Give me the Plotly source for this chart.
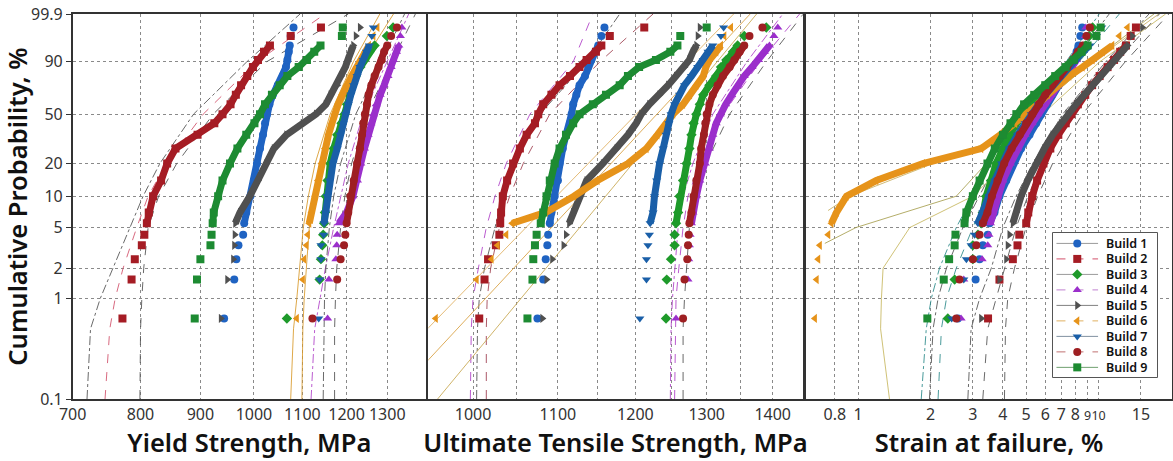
import math
import plotly.graph_objects as go

# ---------------- data ----------------
BUILDS = ["Build 1", "Build 2", "Build 3", "Build 4", "Build 5",
          "Build 6", "Build 7", "Build 8", "Build 9"]
COLORS = ["#1F63C2", "#A51C24", "#1E9A2A", "#9B2FCB", "#505050",
          "#E6931A", "#1A5FA8", "#9E1F22", "#1D8B32"]
SYMBOLS = ["circle", "square", "diamond", "triangle-up", "triangle-right",
           "triangle-left", "triangle-down", "circle", "square"]
LEGEND_LINE = ["#9a9a9a", "#D2506A", "#9a9a9a", "#C080D0", "#808080",
               "#E0B060", "#8090A0", "#C07070", "#70A070"]

# plotting positions (cumulative probability, %) shared by all builds
PROB = [0.634, 1.54, 2.45, 3.35, 4.26, 5.5, 7, 10, 14, 20, 27, 35, 43, 50,
        58, 66, 74, 81, 87, 91, 94.5, 96.5, 98.46, 99.37]

# Yield strength, MPa
YS_B1 = [943, 962, 966, 970, 979, 981, 985, 993, 1000, 1006, 1012, 1018, 1022, 1026, 1031, 1038, 1048, 1059, 1065, 1068, 1071, 1073, 1075, 1081]
YS_B2 = [772, 786, 791, 802, 806, 810, 813, 820, 833, 843, 857, 895, 925, 940, 955, 965, 975, 987, 998, 1008, 1020, 1032, 1075, 1141]
YS_B3 = [1067, 1138, 1141, 1144, 1146, 1148, 1150, 1152, 1156, 1162, 1170, 1178, 1188, 1195, 1201, 1206, 1212, 1222, 1233, 1243, 1255, 1268, 1299, 1315]
YS_B4 = [1156, 1159, 1175, 1177, 1178, 1182, 1200, 1215, 1226, 1234, 1243, 1252, 1259, 1265, 1272, 1282, 1292, 1302, 1310, 1316, 1324, 1330, 1334, 1338]
YS_B5 = [937, 949, 960, 962, 963, 964, 973, 992, 1008, 1025, 1040, 1066, 1101, 1130, 1152, 1163, 1178, 1187, 1197, 1203, 1209, 1216, 1222, 1232]
YS_B6 = [1088, 1101, 1104, 1109, 1112, 1115, 1120, 1128, 1134, 1142, 1150, 1158, 1166, 1172, 1180, 1190, 1200, 1212, 1224, 1234, 1245, 1254, 1265, 1275]
YS_B7 = [1136, 1138, 1141, 1141, 1147, 1148, 1152, 1155, 1160, 1168, 1178, 1185, 1192, 1198, 1204, 1210, 1217, 1225, 1232, 1240, 1248, 1255, 1261, 1265]
YS_B8 = [1122, 1178, 1186, 1194, 1197, 1200, 1204, 1209, 1217, 1225, 1232, 1237, 1240, 1244, 1249, 1253, 1260, 1268, 1278, 1286, 1292, 1300, 1310, 1325]
YS_B9 = [890, 894, 900, 918, 920, 922, 924, 932, 940, 954, 968, 985, 1001, 1012, 1022, 1036, 1052, 1068, 1092, 1110, 1126, 1140, 1189, 1191]

# Ultimate tensile strength, MPa
UTS_B1 = [1075, 1082, 1085, 1087, 1088, 1090, 1092, 1096, 1100, 1102, 1106, 1110, 1115, 1117, 1119, 1123, 1127, 1134, 1138, 1142, 1147, 1151, 1155, 1159]
UTS_B2 = [1007, 1013, 1017, 1026, 1030, 1031, 1032, 1034, 1039, 1046, 1054, 1062, 1072, 1076, 1082, 1092, 1102, 1115, 1127, 1136, 1148, 1155, 1166, 1212]
UTS_B3 = [1242, 1243, 1249, 1254, 1254, 1256, 1259, 1261, 1266, 1271, 1275, 1278, 1281, 1285, 1290, 1295, 1304, 1314, 1321, 1329, 1339, 1346, 1356, 1390]
UTS_B4 = [1256, 1273, 1274, 1275, 1276, 1278, 1280, 1285, 1290, 1298, 1304, 1309, 1314, 1320, 1328, 1337, 1346, 1356, 1368, 1378, 1387, 1395, 1402, 1408]
UTS_B5 = [1081, 1086, 1093, 1107, 1110, 1114, 1119, 1127, 1136, 1157, 1175, 1190, 1201, 1208, 1219, 1233, 1245, 1256, 1268, 1275, 1280, 1285, 1287, 1290]
UTS_B6 = [959, 1004, 1021, 1028, 1038, 1045, 1085, 1120, 1150, 1190, 1215, 1230, 1242, 1252, 1266, 1276, 1285, 1295, 1299, 1304, 1314, 1321, 1326, 1336]
UTS_B7 = [1206, 1215, 1215, 1217, 1219, 1220, 1224, 1226, 1229, 1233, 1238, 1242, 1246, 1249, 1254, 1261, 1268, 1278, 1287, 1295, 1302, 1309, 1321, 1325]
UTS_B8 = [1266, 1268, 1272, 1273, 1274, 1275, 1278, 1281, 1285, 1290, 1292, 1296, 1298, 1300, 1304, 1309, 1316, 1324, 1334, 1341, 1349, 1356, 1364, 1384]
UTS_B9 = [1063, 1069, 1070, 1072, 1074, 1079, 1082, 1086, 1090, 1096, 1102, 1110, 1119, 1127, 1144, 1161, 1179, 1190, 1205, 1228, 1248, 1258, 1262, 1300]

# Strain at failure, %
EL_B1 = [2.6, 3.08, 3.2, 3.3, 3.46, 3.52, 3.69, 3.87, 4.13, 4.4, 4.76, 5.16, 5.5, 5.77, 6.1, 6.4, 6.8, 7.2, 7.6, 7.9, 8.1, 8.25, 8.4, 8.55]
EL_B2 = [3.47, 3.87, 4.4, 4.6, 4.68, 5.0, 5.1, 5.3, 5.55, 5.9, 6.3, 6.8, 7.3, 7.7, 8.2, 8.8, 9.4, 10.1, 10.9, 11.6, 12.3, 13.0, 13.6, 14.3]
EL_B3 = [2.36, 2.52, 3.0, 3.0, 3.15, 3.25, 3.3, 3.41, 3.57, 3.75, 4.0, 4.26, 4.54, 4.76, 5.16, 5.67, 6.23, 6.87, 7.55, 8.05, 8.58, 8.86, 9.14, 9.44]
EL_B4 = [2.68, 2.75, 3.28, 3.46, 3.5, 3.55, 3.65, 3.8, 4.0, 4.3, 4.6, 4.95, 5.3, 5.6, 5.95, 6.35, 6.8, 7.3, 7.8, 8.1, 8.4, 8.6, 8.8, 8.85]
EL_B5 = [3.25, 3.87, 4.13, 4.19, 4.26, 4.4, 4.54, 4.76, 5.07, 5.5, 5.95, 6.44, 6.97, 7.42, 8.05, 8.72, 9.44, 10.2, 11.1, 11.8, 12.6, 13.2, 13.8, 15.2]
EL_B6 = [0.661, 0.672, 0.682, 0.693, 0.751, 0.775, 0.813, 0.895, 1.19, 1.86, 3.25, 3.9, 4.5, 5.0, 5.58, 6.14, 6.76, 7.55, 8.58, 9.44, 10.4, 11.4, 12.2, 13.2]
EL_B7 = [2.45, 2.75, 2.82, 2.95, 3.05, 3.15, 3.3, 3.5, 3.7, 3.95, 4.25, 4.6, 4.95, 5.25, 5.6, 6.0, 6.5, 7.0, 7.6, 8.1, 8.6, 9.2, 9.8, 10.3]
EL_B8 = [2.56, 2.64, 3.0, 3.1, 3.2, 3.3, 3.45, 3.6, 3.8, 4.05, 4.35, 4.7, 5.0, 5.3, 5.65, 6.0, 6.4, 6.9, 7.4, 7.8, 8.2, 8.6, 8.9, 9.2]
EL_B9 = [1.94, 2.27, 2.39, 2.52, 2.54, 2.77, 2.82, 3.0, 3.2, 3.45, 3.7, 4.0, 4.3, 4.55, 4.9, 5.4, 6.0, 6.6, 7.3, 7.9, 8.5, 9.0, 9.8, 10.2]

# fitted distribution curves / confidence bounds
FIT_P = [0.1, 0.5, 1, 2, 5, 10, 20, 50, 90, 99.9]
LINE_P = [0.1, 99.9]
YS_FIT_B2_LO = [720, 725, 739, 758, 784, 804, 831, 888, 986, 1095]
YS_FIT_B2_MID = [746, 753, 761, 773, 794, 812, 842, 905, 1005, 1150]
YS_FIT_B2_HI = [799, 800, 802, 805, 812, 829, 859, 923, 1025, 1204]
YS_FIT_B6_LO = [1075, 1081, 1088, 1094, 1102, 1113, 1128, 1162, 1216, 1281]
YS_FIT_B6_HI = [1099, 1101, 1104, 1108, 1115, 1124, 1139, 1177, 1240, 1316]
YS_FIT_B4_LO = [1119, 1127, 1139, 1151, 1170, 1186, 1204, 1240, 1299, 1356]
YS_FIT_B7_HI = [1146, 1147, 1149, 1152, 1160, 1170, 1186, 1222, 1285, 1345]
YS_FIT_B4_HI = [1172, 1172, 1174, 1177, 1186, 1196, 1212, 1248, 1312, 1374]

UTS_FIT_B2_LO = [997, 998, 1000, 1006, 1015, 1025, 1038, 1066, 1119, 1144]
UTS_FIT_B2_MID = [1004, 1005, 1007, 1013, 1025, 1034, 1048, 1078, 1136, 1179]
UTS_FIT_B2_HI = [1015, 1015, 1016, 1020, 1030, 1042, 1058, 1090, 1153, 1224]
UTS_LINE_B6_A = [913, 1365]
UTS_LINE_B6_B = [961, 1375]
UTS_LINE_B6_C = [880, 1340]
UTS_FIT_B4_LO = [1248, 1249, 1251, 1254, 1259, 1266, 1280, 1309, 1360, 1416]
UTS_FIT_B4_MID = [1254, 1255, 1256, 1260, 1266, 1273, 1290, 1324, 1380, 1443]
UTS_FIT_B4_HI = [1266, 1266, 1268, 1271, 1275, 1283, 1299, 1334, 1390, 1449]

EL_FIT_B6_A = [1.35, 1.24, 1.25, 1.27, 1.64, 3.0, 4.13, 5.85, 10.1, 19.0]
EL_FIT_B6_B_P = [3.5, 5, 10, 20, 50, 90, 99.9]
EL_FIT_B6_B = [0.727, 0.98, 2.56, 3.41, 5.2, 9.3, 17.0]
EL_FIT_B6_C_P = [7.3, 10, 20, 30, 50, 90, 99.9]
EL_FIT_B6_C = [0.75, 0.924, 2.05, 3.41, 5.15, 9.4, 17.8]
EL_FIT_B9_LO = [1.83, 1.92, 2.015, 2.18, 2.56, 3.0, 3.52, 4.69, 7.32, 10.06]
EL_FIT_B9_MID = [1.98, 2.05, 2.15, 2.33, 2.73, 3.2, 3.75, 4.99, 7.8, 11.07]
EL_FIT_B9_HI = [2.15, 2.22, 2.33, 2.56, 3.0, 3.41, 4.0, 5.32, 8.3, 12.2]
EL_FIT_B5_LO = [2.86, 2.95, 3.2, 3.58, 4.0, 4.54, 5.32, 7.09, 10.7, 16.2]
EL_FIT_B5_MID = [3.3, 3.46, 3.75, 4.06, 4.54, 5.08, 5.86, 7.8, 11.8, 17.9]
EL_FIT_B5_HI = [4.06, 4.1, 4.19, 4.47, 4.99, 5.58, 6.44, 8.57, 12.9, 19.6]

Y_TICKS = [0.1, 1, 2, 5, 10, 20, 50, 90, 99.9]
Y_TICKTEXT = ["0.1", "1", "2", "5", "10", "20", "50", "90", "99.9"]
X1_TICKS = [700, 800, 900, 1000, 1100, 1200, 1300]
X2_TICKS = [1000, 1100, 1200, 1300, 1400]
X2_MINOR = [1050, 1150, 1250, 1350]
X3_TICKS = [0.8, 1, 2, 3, 4, 5, 6, 7, 8, 9, 10, 15]
X3_TICKTEXT = ["0.8", "1", "2", "3", "4", "5", "6", "7", "8", "9", "10", "15"]

YS = [YS_B1, YS_B2, YS_B3, YS_B4, YS_B5, YS_B6, YS_B7, YS_B8, YS_B9]
UTS = [UTS_B1, UTS_B2, UTS_B3, UTS_B4, UTS_B5, UTS_B6, UTS_B7, UTS_B8, UTS_B9]
EL = [EL_B1, EL_B2, EL_B3, EL_B4, EL_B5, EL_B6, EL_B7, EL_B8, EL_B9]


def wb(ps):
    """Weibull probability scale: ln(-ln(1-p))."""
    return [math.log(-math.log(1 - p / 100.0)) for p in ps]


fig = go.Figure()
FONT = "Noto Sans"
BAND_LO, BAND_HI = 5, 22   # indices of the dense run of points

# ---------- fitted curves (drawn first, underneath) ----------
curves = [
    ("x", FIT_P, YS_FIT_B2_LO, "#505050", "dashdot"),
    ("x", FIT_P, YS_FIT_B2_MID, "#D2506A", "dash"),
    ("x", FIT_P, YS_FIT_B2_HI, "#505050", "dash"),
    ("x", FIT_P, YS_FIT_B6_LO, "#D99A2B", "solid"),
    ("x", FIT_P, YS_FIT_B6_HI, "#D99A2B", "solid"),
    ("x", FIT_P, YS_FIT_B4_LO, "#B040C8", "dashdot"),
    ("x", FIT_P, YS_FIT_B7_HI, "#505050", "dashdot"),
    ("x", FIT_P, YS_FIT_B4_HI, "#505050", "dash"),
    ("x2", FIT_P, UTS_FIT_B2_LO, "#B040C8", "dash"),
    ("x2", FIT_P, UTS_FIT_B2_MID, "#505050", "dashdot"),
    ("x2", FIT_P, UTS_FIT_B2_HI, "#A04050", "dash"),
    ("x2", LINE_P, UTS_LINE_B6_A, "#D9A040", "solid"),
    ("x2", LINE_P, UTS_LINE_B6_B, "#C8A850", "solid"),
    ("x2", LINE_P, UTS_LINE_B6_C, "#E0B060", "solid"),
    ("x2", FIT_P, UTS_FIT_B4_LO, "#B040C8", "dashdot"),
    ("x2", FIT_P, UTS_FIT_B4_MID, "#B040C8", "dash"),
    ("x2", FIT_P, UTS_FIT_B4_HI, "#505050", "dash"),
    ("x3", FIT_P, EL_FIT_B6_A, "#C8B860", "solid"),
    ("x3", EL_FIT_B6_B_P, EL_FIT_B6_B, "#A8A050", "solid"),
    ("x3", EL_FIT_B6_C_P, EL_FIT_B6_C, "#C8B060", "solid"),
    ("x3", FIT_P, EL_FIT_B9_LO, "#2A8A8A", "dashdot"),
    ("x3", FIT_P, EL_FIT_B9_MID, "#505050", "dashdot"),
    ("x3", FIT_P, EL_FIT_B9_HI, "#2A8A8A", "dash"),
    ("x3", FIT_P, EL_FIT_B5_LO, "#505050", "dashdot"),
    ("x3", FIT_P, EL_FIT_B5_MID, "#505050", "dash"),
    ("x3", FIT_P, EL_FIT_B5_HI, "#505050", "dash"),
]
for xa, pp, vals, col, dash in curves:
    ya = "y" + xa[1:]
    fig.add_trace(go.Scatter(x=vals, y=wb(pp), xaxis=xa, yaxis=ya, mode="lines",
                             line=dict(color=col, width=1, dash=dash),
                             opacity=0.85, showlegend=False, hoverinfo="skip"))

# ---------- data points ----------
for xa, ya, data in [("x", "y", YS), ("x2", "y2", UTS), ("x3", "y3", EL)]:
    ys = wb(PROB)
    for i in range(9):
        vals = data[i]
        fig.add_trace(go.Scatter(
            x=vals[BAND_LO:BAND_HI], y=ys[BAND_LO:BAND_HI], xaxis=xa, yaxis=ya,
            mode="lines", line=dict(color=COLORS[i], width=7),
            showlegend=False, hoverinfo="skip"))
        fig.add_trace(go.Scatter(
            x=vals, y=ys, xaxis=xa, yaxis=ya, mode="markers",
            marker=dict(symbol=SYMBOLS[i], color=COLORS[i], size=8, line=dict(width=0)),
            showlegend=False, name=BUILDS[i], hoverinfo="skip"))

# ---------- legend box (own small axes, units = pixels inside the box) ----------
W, H = 1173, 461
LEG_X0, LEG_X1, LEG_Y0, LEG_Y1 = 1052, 1158, 232, 378
LEG_ROW = 15.6
rows = [11 + LEG_ROW * k for k in range(9)]
fig.add_trace(go.Scatter(
    x=[0, LEG_X1 - LEG_X0, LEG_X1 - LEG_X0, 0, 0],
    y=[0, 0, LEG_Y1 - LEG_Y0, LEG_Y1 - LEG_Y0, 0],
    xaxis="x4", yaxis="y4", mode="lines", fill="toself", fillcolor="white",
    line=dict(color="#555555", width=1), showlegend=False, hoverinfo="skip"))
for i in range(9):
    fig.add_trace(go.Scatter(
        x=[4, 46], y=[rows[i], rows[i]], xaxis="x4", yaxis="y4", mode="lines",
        line=dict(color=LEGEND_LINE[i], width=1, dash="solid" if i % 2 == 0 else "dash"),
        showlegend=False, hoverinfo="skip"))
    fig.add_trace(go.Scatter(
        x=[25], y=[rows[i]], xaxis="x4", yaxis="y4", mode="markers",
        marker=dict(symbol=SYMBOLS[i], color=COLORS[i], size=8),
        showlegend=False, hoverinfo="skip"))
    fig.add_annotation(x=52, y=rows[i], xref="x4", yref="y4", text=BUILDS[i],
                       showarrow=False, xanchor="left", yanchor="middle",
                       font=dict(family=FONT, size=12.5, color="#111111", weight=600))

Y_DOM = [1 - 399 / H, 1 - 14 / H]
GRID = dict(showgrid=True, gridcolor="#8a8a8a", griddash="dot", gridwidth=1,
            showline=True, mirror=True, linecolor="#333333", linewidth=1.5,
            zeroline=False, automargin=False)
TICKF = dict(family=FONT, size=16, color="#333333")
TITLEF = dict(family=FONT, size=25.5, color="#111111", weight=600)

# the two tightly spaced labels "9" and "10" are set a little smaller so they do not collide
x3_text = [('<span style="font-size:12.5px">%s</span>' % t) if t in ("9", "10") else t
           for t in X3_TICKTEXT]

yr = [wb([0.1])[0], wb([99.9])[0]]

fig.update_layout(
    width=W, height=H, margin=dict(l=0, r=0, t=0, b=0),
    plot_bgcolor="white", paper_bgcolor="white",
    font=dict(family=FONT), showlegend=False, hovermode=False,
    xaxis=dict(domain=[72.7 / W, 426 / W], type="log",
               range=[math.log10(700), math.log10(1403)],
               tickvals=X1_TICKS, ticktext=[str(v) for v in X1_TICKS],
               tickfont=TICKF, ticks="", anchor="y", tickangle=0,
               title=dict(text="Yield Strength, MPa", font=TITLEF, standoff=2), **GRID),
    xaxis2=dict(domain=[428.3 / W, 802.7 / W], type="log",
                range=[math.log10(951), math.log10(1448)],
                tickvals=X2_TICKS, ticktext=[str(v) for v in X2_TICKS],
                minor=dict(tickvals=X2_MINOR, showgrid=True, gridcolor="#8a8a8a",
                           griddash="dot", ticklen=0),
                tickfont=TICKF, ticks="", anchor="y2", tickangle=0,
                title=dict(text="Ultimate Tensile Strength, MPa", font=TITLEF, standoff=2), **GRID),
    xaxis3=dict(domain=[806 / W, 1172 / W], type="log",
                range=[math.log10(0.607), math.log10(20.2)],
                tickvals=X3_TICKS, ticktext=x3_text,
                tickfont=TICKF, ticks="", anchor="y3", tickangle=0,
                title=dict(text="Strain at failure, %", font=TITLEF, standoff=2), **GRID),
    xaxis4=dict(domain=[LEG_X0 / W, LEG_X1 / W], range=[-0.5, LEG_X1 - LEG_X0 + 0.5],
                visible=False, fixedrange=True, anchor="y4"),
    yaxis=dict(domain=Y_DOM, range=yr, anchor="x",
               tickvals=wb(Y_TICKS), ticktext=Y_TICKTEXT, tickfont=TICKF,
               ticks="outside", ticklen=5, tickcolor="#333333",
               title=dict(text="Cumulative Probability, %", font=TITLEF, standoff=4), **GRID),
    yaxis2=dict(domain=Y_DOM, range=yr, anchor="x2", tickvals=wb(Y_TICKS),
                showticklabels=False, ticks="", **GRID),
    yaxis3=dict(domain=Y_DOM, range=yr, anchor="x3", tickvals=wb(Y_TICKS),
                showticklabels=False, ticks="", **GRID),
    yaxis4=dict(domain=[1 - LEG_Y1 / H, 1 - LEG_Y0 / H],
                range=[LEG_Y1 - LEG_Y0 + 0.5, -0.5],
                visible=False, fixedrange=True, anchor="x4"),
)

fig.write_html("out.html", config={"displayModeBar": False},
               post_script="document.body.style.margin='0';document.body.style.overflow='hidden';")
